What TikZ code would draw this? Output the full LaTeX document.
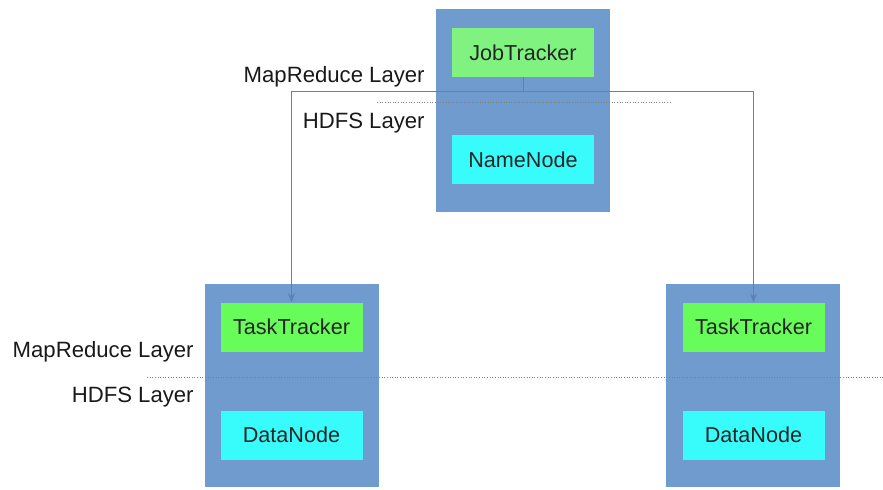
\documentclass[tikz,border=0pt]{standalone}
\usepackage{fontspec}
\setmainfont{Liberation Sans}
\usetikzlibrary{arrows.meta}

\definecolor{hostblue}{RGB}{112,155,206}
\definecolor{jobgreen}{RGB}{128,242,128}
\definecolor{taskgreen}{RGB}{104,252,90}
\definecolor{hdfscyan}{RGB}{56,252,252}
\definecolor{linkblue}{RGB}{95,130,180}

\tikzset{
    host/.style={fill=hostblue, minimum width=3.48cm, minimum height=4.06cm, inner sep=0pt},
    daemon/.style={minimum width=2.84cm, minimum height=0.98cm, inner sep=0pt, text=black!85,
        font=\fontsize{12.3}{14}\selectfont},
    mr/.style={daemon, fill=jobgreen},
    tt/.style={daemon, fill=taskgreen},
    hdfs/.style={daemon, fill=hdfscyan},
    layer/.style={anchor=east, inner sep=0pt, text=black!90, font=\fontsize{12.6}{14}\selectfont},
    link/.style={linkblue, line width=0.5pt, -{Stealth[length=5pt,width=4pt]}},
    split/.style={gray, densely dotted, line width=0.5pt}
}

\begin{document}
\begin{tikzpicture}

    \useasboundingbox (0,0) rectangle (17.66,-9.78);

    % hosts
    \node[host] (master) at (10.46,-2.21) {};
    \node[host] (slaveA) at (5.84,-7.71) {};
    \node[host] (slaveB) at (15.06,-7.71) {};

    \node[mr] (jt) at (10.46,-1.05) {JobTracker};
    \node[hdfs] (nn) at (10.46,-3.19) {NameNode};
    \node[tt] (ttA) at (5.83,-6.54) {TaskTracker};
    \node[hdfs] (dnA) at (5.83,-8.70) {DataNode};
    \node[tt] (ttB) at (15.07,-6.54) {TaskTracker};
    \node[hdfs] (dnB) at (15.07,-8.70) {DataNode};

    % layer boundaries
    \coordinate (topL) at (7.54,-2.04);
    \coordinate (topR) at (13.40,-2.04);
    \coordinate (botL) at (2.94,-7.54);
    \coordinate (botR) at (17.66,-7.54);
    \draw[split] (topL) -- (topR);
    \draw[split] (botL) -- (botR);

    \node[layer] (mrTop) at (8.50,-1.54) {MapReduce Layer};
    \node[layer] (hdfsTop) at (8.50,-2.46) {HDFS Layer};
    \node[layer] (mrBot) at (3.88,-7.04) {MapReduce Layer};
    \node[layer] (hdfsBot) at (3.88,-7.94) {HDFS Layer};

    % job tracker to task trackers
    \coordinate (fork) at (10.46,-1.82);
    \draw[linkblue, line width=0.5pt] (jt.south) -- (fork);
    \draw[link] (fork) -| (ttA.north);
    \draw[link] (fork) -| (ttB.north);

\end{tikzpicture}
\end{document}
